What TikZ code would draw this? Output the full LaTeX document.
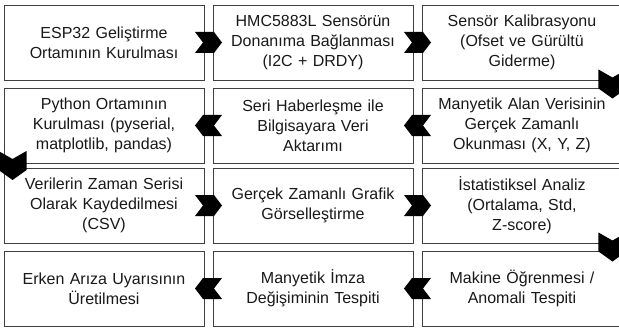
\documentclass[tikz,border=0pt]{standalone}
\usepackage{fontspec}
\setmainfont{Liberation Sans}
\usetikzlibrary{calc}

\begin{document}
\begin{tikzpicture}[x=1pt,y=-1pt,
  main_node/.style={rectangle,draw=black!75,line width=0.9pt,fill=white,minimum width=200pt,minimum height=75pt,text width=190pt,align=center,inner sep=0pt,text=black!90,font=\fontsize{16}{20}\selectfont},
  chev_h/.pic={\fill (-13.5,-10.5) -- (5.5,-10.5) -- (13.5,0) -- (5.5,10.5) -- (-13.5,10.5) -- (-5.5,0) -- cycle;},
  chev_v/.pic={\fill (-14.5,-14) -- (4.5,-14) -- (14.5,0) -- (4.5,14) -- (-14.5,14) -- (-6.5,0) -- cycle;}]

  \useasboundingbox (0,0) rectangle (619,329);

    % first row, left to right
    \node[main_node] (1) at (104, 42.5) {ESP32 Geliştirme\\Ortamının Kurulması};
    \node[main_node] (2) at (313, 42.5) {HMC5883L Sensörün\\Donanıma Bağlanması\\(I2C + DRDY)};
    \node[main_node] (3) at (522, 42.5) {Sensör Kalibrasyonu\\(Ofset ve Gürültü\\Giderme)};
    % second row, right to left
    \node[main_node] (4) at (522, 125.5) {Manyetik Alan Verisinin\\Gerçek Zamanlı\\Okunması (X, Y, Z)};
    \node[main_node] (5) at (313, 125.5) {Seri Haberleşme ile\\Bilgisayara Veri\\Aktarımı};
    \node[main_node] (6) at (104, 125.5) {Python Ortamının\\Kurulması (pyserial,\\matplotlib, pandas)};
    % third row, left to right
    \node[main_node] (7) at (104, 205.5) {Verilerin Zaman Serisi\\Olarak Kaydedilmesi\\(CSV)};
    \node[main_node] (8) at (313, 205.5) {Gerçek Zamanlı Grafik\\Görselleştirme};
    \node[main_node] (9) at (522, 205.5) {İstatistiksel Analiz\\(Ortalama, Std,\\Z-score)};
    % fourth row, right to left
    \node[main_node] (10) at (522, 288.5) {Makine Öğrenmesi /\\Anomali Tespiti};
    \node[main_node] (11) at (313, 288.5) {Manyetik İmza\\Değişiminin Tespiti};
    \node[main_node] (12) at (104, 288.5) {Erken Arıza Uyarısının\\Üretilmesi};

    % chevrons between the steps
    \pic at ($(1)!0.5!(2)$) {chev_h};
    \pic at ($(2)!0.5!(3)$) {chev_h};
    \pic[rotate=-90] at ($([xshift=-10pt]3.south east)!0.5!([xshift=-10pt]4.north east)$) {chev_v};
    \pic[rotate=180] at ($(4)!0.5!(5)$) {chev_h};
    \pic[rotate=180] at ($(5)!0.5!(6)$) {chev_h};
    \pic[rotate=-90] at ($([xshift=9pt]6.south west)!0.5!([xshift=9pt]7.north west)$) {chev_v};
    \pic at ($(7)!0.5!(8)$) {chev_h};
    \pic at ($(8)!0.5!(9)$) {chev_h};
    \pic[rotate=-90] at ($([xshift=-10pt]9.south east)!0.5!([xshift=-10pt]10.north east)$) {chev_v};
    \pic[rotate=180] at ($(10)!0.5!(11)$) {chev_h};
    \pic[rotate=180] at ($(11)!0.5!(12)$) {chev_h};

\end{tikzpicture}
\end{document}
